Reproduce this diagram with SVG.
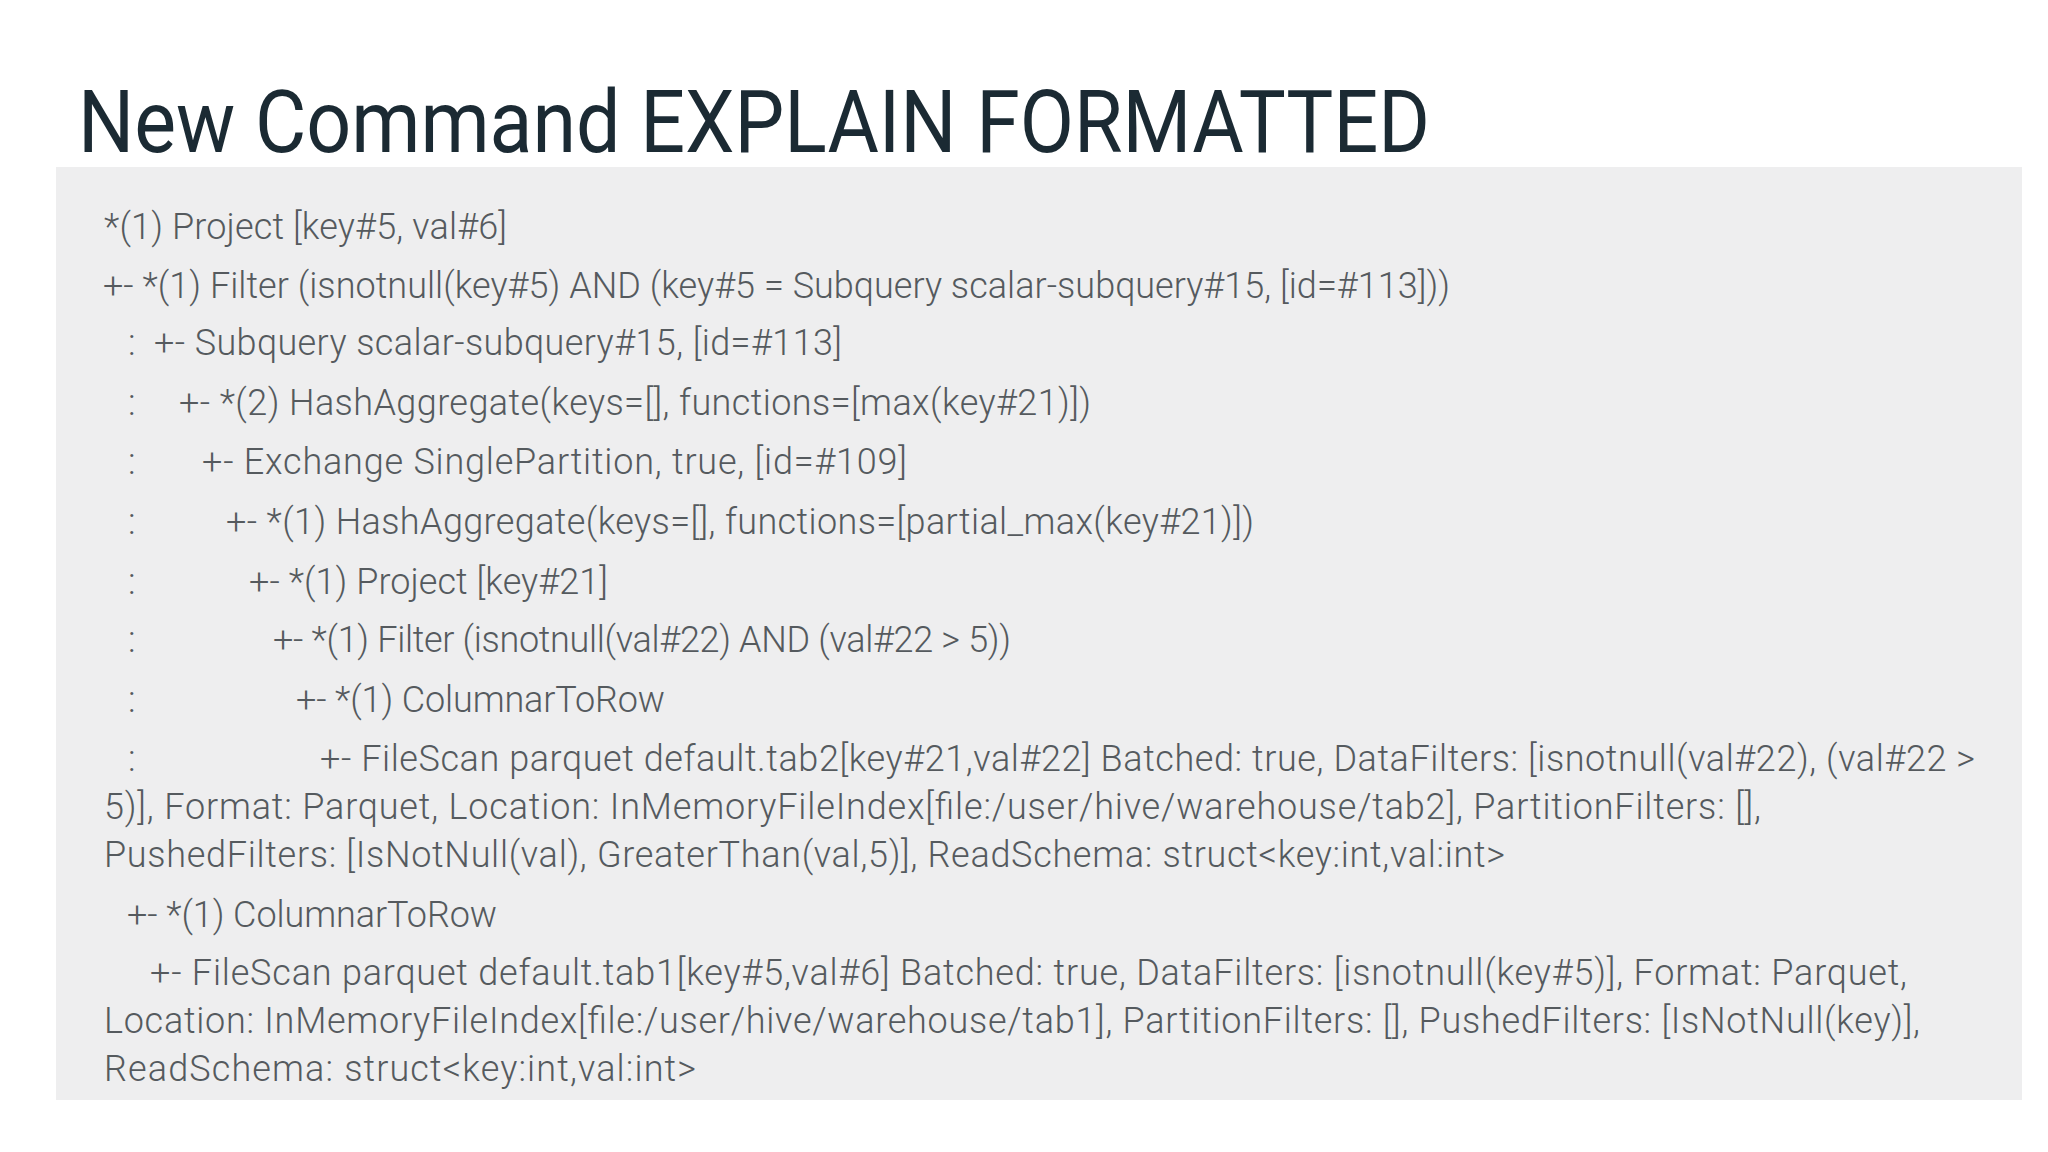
<svg xmlns="http://www.w3.org/2000/svg" width="2048" height="1152" viewBox="0 0 2048 1152">
<style>
.t{font-family:Roboto,"Liberation Sans",sans-serif;font-weight:300;font-size:36px;fill:#555a5e}
.h{font-family:Roboto,"Liberation Sans",sans-serif;font-weight:400;font-size:88px;fill:#1b2a33}
</style>
<rect width="2048" height="1152" fill="#fff"/>
<g id="title"><text class="h" x="78" y="152" textLength="1352" lengthAdjust="spacingAndGlyphs">New Command EXPLAIN FORMATTED</text></g>
<g id="panel">
<rect x="56" y="167" width="1966" height="933" fill="#eeeeef"/>
<text class="t" x="104" y="239" textLength="403">*(1) Project [key#5, val#6]</text>
<text class="t" x="103" y="298" textLength="1347">+- *(1) Filter (isnotnull(key#5) AND (key#5 = Subquery scalar-subquery#15, [id=#113]))</text>
<text class="t" x="128" y="355">:</text><text class="t" x="154" y="355" textLength="688">+- Subquery scalar-subquery#15, [id=#113]</text>
<text class="t" x="128" y="415">:</text><text class="t" x="179" y="415" textLength="912">+- *(2) HashAggregate(keys=[], functions=[max(key#21)])</text>
<text class="t" x="128" y="474">:</text><text class="t" x="202" y="474" textLength="705">+- Exchange SinglePartition, true, [id=#109]</text>
<text class="t" x="128" y="534">:</text><text class="t" x="226" y="534" textLength="1028">+- *(1) HashAggregate(keys=[], functions=[partial_max(key#21)])</text>
<text class="t" x="128" y="594">:</text><text class="t" x="249" y="594" textLength="359">+- *(1) Project [key#21]</text>
<text class="t" x="128" y="652">:</text><text class="t" x="273" y="652" textLength="738">+- *(1) Filter (isnotnull(val#22) AND (val#22 &gt; 5))</text>
<text class="t" x="128" y="712">:</text><text class="t" x="296" y="712" textLength="369">+- *(1) ColumnarToRow</text>
<text class="t" x="128" y="771">:</text><text class="t" x="320" y="771" textLength="1655">+- FileScan parquet default.tab2[key#21,val#22] Batched: true, DataFilters: [isnotnull(val#22), (val#22 &gt;</text>
<text class="t" x="104" y="819" textLength="1657">5)], Format: Parquet, Location: InMemoryFileIndex[file:/user/hive/warehouse/tab2], PartitionFilters: [],</text>
<text class="t" x="104" y="867" textLength="1401">PushedFilters: [IsNotNull(val), GreaterThan(val,5)], ReadSchema: struct&lt;key:int,val:int&gt;</text>
<text class="t" x="127" y="927" textLength="370">+- *(1) ColumnarToRow</text>
<text class="t" x="150" y="985" textLength="1757">+- FileScan parquet default.tab1[key#5,val#6] Batched: true, DataFilters: [isnotnull(key#5)], Format: Parquet,</text>
<text class="t" x="104" y="1033" textLength="1816">Location: InMemoryFileIndex[file:/user/hive/warehouse/tab1], PartitionFilters: [], PushedFilters: [IsNotNull(key)],</text>
<text class="t" x="104" y="1081" textLength="592">ReadSchema: struct&lt;key:int,val:int&gt;</text>
</g>
</svg>
